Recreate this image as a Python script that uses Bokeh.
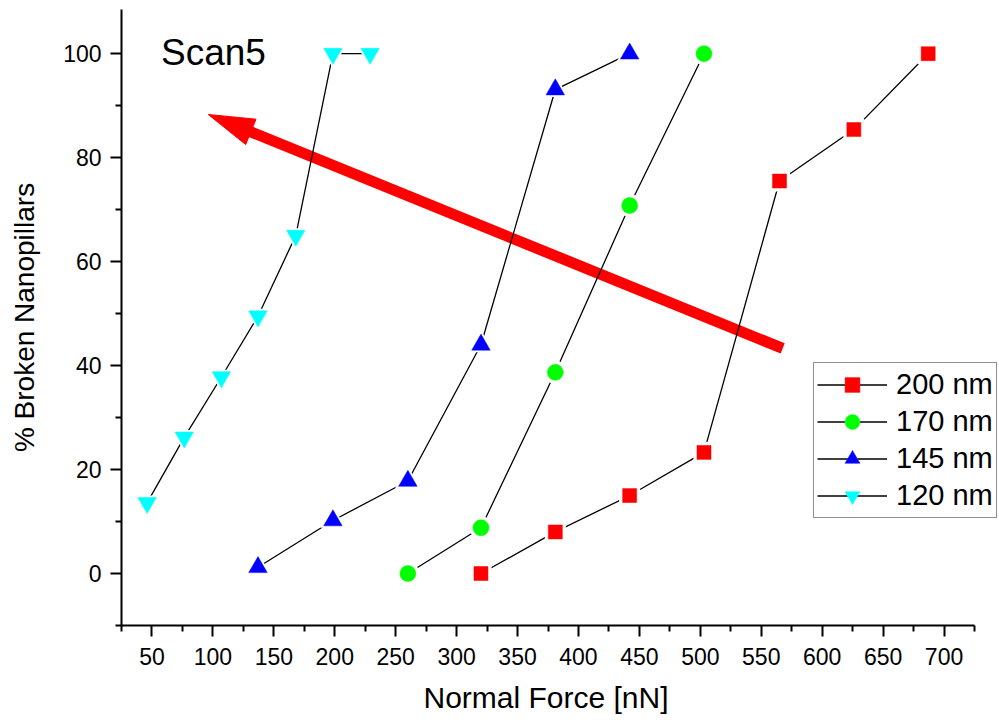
import math
from bokeh.plotting import figure
from bokeh.models import Range1d, FixedTicker, Legend, LegendItem, Label, Title
from bokeh.embed import file_html
from bokeh.resources import INLINE

# ---- data ----
x200 = [320, 381, 442, 503, 565, 626, 687]
y200 = [0, 8, 15, 23.3, 75.5, 85.4, 100]
x170 = [260, 320, 381, 442, 503]
y170 = [0, 8.8, 38.7, 70.8, 100]
x145 = [137, 198.5, 260, 320, 381, 442]
y145 = [1.2, 10.2, 17.8, 44, 93.1, 100]
x120 = [46, 76.5, 107, 137, 168, 198.5, 229]
y120 = [13.6, 26.2, 37.8, 49.5, 65, 100, 100]

series_labels = ["200 nm", "170 nm", "145 nm", "120 nm"]
x_major = [50, 100, 150, 200, 250, 300, 350, 400, 450, 500, 550, 600, 650, 700]
x_minor = [25, 75, 125, 175, 225, 275, 325, 375, 425, 475, 525, 575, 625, 675, 725]
y_major = [0, 20, 40, 60, 80, 100]
y_minor = [-10, 10, 30, 50, 70, 90]

arrow_tail = (567.6, 43.3)
arrow_tip = (96.2, 88.3)

AX0, AX1 = 25, 725          # drawn extent of the x axis
Y0, Y1 = -10, 108.5
FONT = "Liberation Sans"

W, H = 999, 724
BL, BR, BT, BB = 121, 0, 9, 98
fw, fh = W - BL - BR, H - BT - BB
AXIS_PX = 853
kx = AXIS_PX / (AX1 - AX0)  # px per data unit along x
ky = fh / (Y1 - Y0)
X0 = AX0
X1 = AX0 + fw / kx

p = figure(width=W, height=H, output_backend="svg", toolbar_location=None,
           x_range=Range1d(X0, X1), y_range=Range1d(Y0, Y1),
           min_border_left=BL, min_border_right=BR, min_border_top=BT,
           min_border_bottom=BB)
p.title.visible = False
p.outline_line_color = None
p.background_fill_color = "white"
p.border_fill_color = "white"
p.xgrid.visible = False
p.ygrid.visible = False

for ax in (p.xaxis[0], p.yaxis[0]):
    ax.axis_line_width = 2
    ax.major_tick_line_width = 2
    ax.minor_tick_line_width = 2
    ax.major_tick_out = 11
    ax.major_tick_in = 0
    ax.minor_tick_out = 6
    ax.minor_tick_in = 0
    ax.major_label_text_font = FONT
    ax.major_label_text_font_size = "23px"
    ax.major_label_text_color = "black"
    ax.axis_label_text_font = FONT
    ax.axis_label_text_font_style = "normal"
    ax.axis_label_text_color = "black"

p.xaxis[0].bounds = (AX0, AX1)
p.xaxis[0].ticker = FixedTicker(ticks=x_major, minor_ticks=x_minor)
p.yaxis[0].ticker = FixedTicker(ticks=y_major, minor_ticks=y_minor)
p.yaxis[0].axis_label = "% Broken Nanopillars"
p.yaxis[0].axis_label_text_font_size = "28px"
p.xaxis[0].major_label_standoff = 11
p.yaxis[0].major_label_standoff = 9
p.yaxis[0].axis_label_standoff = 20

# x-axis title placed under the drawn axis (which is narrower than the frame)
xt = Title(text="Normal Force [nN]", align="left", offset=302,
           text_font=FONT, text_font_size="30px",
           text_font_style="normal", text_color="black", standoff=22)
p.add_layout(xt, "below")

# ---- arrow (drawn beneath data lines) ----
tx, ty = (arrow_tail[0] - X0) * kx, (arrow_tail[1] - Y0) * ky
hx, hy = (arrow_tip[0] - X0) * kx, (arrow_tip[1] - Y0) * ky
L = math.hypot(hx - tx, hy - ty)
ux, uy = (hx - tx) / L, (hy - ty) / L
nx, ny = -uy, ux
head_len, head_half = 46, 13.7
bx, by = hx - ux * head_len, hy - uy * head_len
sx, sy = bx + ux * 6, by + uy * 6
to_dx = lambda v: v / kx + X0
to_dy = lambda v: v / ky + Y0
p.line([to_dx(tx), to_dx(sx)], [to_dy(ty), to_dy(sy)], line_color="#FF0000",
       line_width=11, line_cap="butt")
p.patch([to_dx(hx), to_dx(bx + nx * head_half), to_dx(bx - nx * head_half)],
        [to_dy(hy), to_dy(by + ny * head_half), to_dy(by - ny * head_half)],
        fill_color="#FF0000", line_color="#FF0000", line_width=1)

# ---- series ----
specs = [
    (x200, y200, "square", 14, "#FF0000"),
    (x170, y170, "circle", 16, "#00FF00"),
    (x145, y145, "triangle", 18.5, "#0000FF"),
    (x120, y120, "inverted_triangle", 18.5, "#00FFFF"),
]
items = []
line_rs = []
for (xs, ys, mk, sz, col), lab in zip(specs, series_labels):
    lr = p.line(xs, ys, line_color="black", line_width=1.3)
    line_rs.append((lr, xs, ys, mk, sz, col, lab))
for lr, xs, ys, mk, sz, col, lab in line_rs:
    wr = p.scatter(xs, ys, marker=mk, size=sz + 7, fill_color="white",
                   line_color="white", line_width=0)
    mr = p.scatter(xs, ys, marker=mk, size=sz, fill_color=col,
                   line_color=col, line_width=0.5)
    items.append(LegendItem(label=lab, renderers=[lr, wr, mr]))

legend = Legend(items=items, location=(692, 107))
legend.glyph_width = 70
legend.glyph_height = 37
legend.label_height = 37
legend.spacing = 0
legend.padding = 3
legend.margin = 0
legend.label_standoff = 9
legend.label_text_font = FONT
legend.label_text_font_size = "29px"
legend.label_text_color = "black"
legend.border_line_color = "#222222"
legend.border_line_width = 1.5
legend.background_fill_color = "white"
legend.background_fill_alpha = 1
p.add_layout(legend, "center")

p.add_layout(Label(x=57.4, y=100.2, text="Scan5", text_font=FONT,
                   text_font_size="37px", text_color="black",
                   text_baseline="alphabetic", text_align="left"))

open("out.html", "w").write(file_html(p, INLINE))
